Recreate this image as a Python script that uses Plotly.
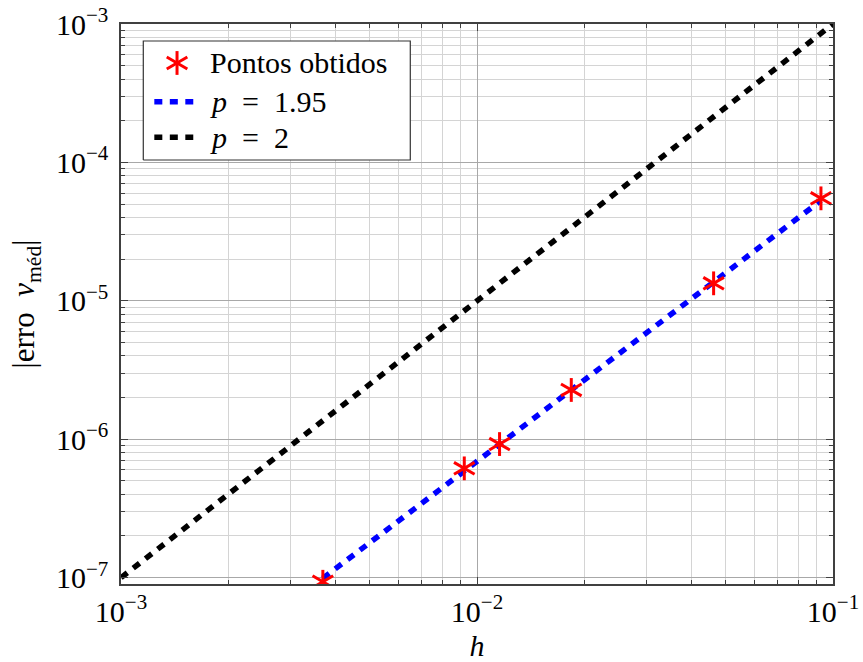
import plotly.graph_objects as go

# Measured error of the averaged velocity versus mesh size h
h_points = [0.0925, 0.0462, 0.0184, 0.01157, 0.00921, 0.00369]
err_points = [5.50e-5, 1.338e-5, 2.27e-6, 9.23e-7, 6.16e-7, 9.34e-8]

# Reference slopes
h_p195 = [0.00369, 0.0925]
err_p195 = [9.9e-8, 5.3e-5]
h_p2 = [1e-3, 1e-1]
err_p2 = [1e-7, 1e-3]

x_ticks = [1e-3, 1e-2, 1e-1]
x_ticktext = ["10<sup>−3</sup>", "10<sup>−2</sup>", "10<sup>−1</sup>"]
y_ticks = [1e-7, 1e-6, 1e-5, 1e-4, 1e-3]
y_ticktext = ["10<sup>−7</sup>", "10<sup>−6</sup>", "10<sup>−5</sup>", "10<sup>−4</sup>", "10<sup>−3</sup>"]

legend_labels = ["Pontos obtidos", "<i>p</i>\u00a0\u00a0=\u00a0\u00a01.95", "<i>p</i>\u00a0\u00a0=\u00a0\u00a02"]

FONT = "Liberation Serif, Times New Roman, serif"
RED = "#ff0000"
BLUE = "#0000ff"
DOTS = "8px,7.5px"
LW = 5.5
STAR_SIZE = 17
STAR_LW = 3
SPOKES = [0, 60, 120]
FS = 30

x_minor = [m * 10.0 ** e for e in range(-3, -1) for m in range(2, 10)]
y_minor = [m * 10.0 ** e for e in range(-8, -3) for m in range(2, 10)]


def star(a):
    return dict(symbol="line-ns-open", size=STAR_SIZE, angle=a, color=RED,
                line=dict(color=RED, width=STAR_LW))


fig = go.Figure()

fig.add_trace(go.Scatter(x=h_p2, y=err_p2, mode="lines",
                         line=dict(color="black", width=LW, dash=DOTS),
                         showlegend=False, hoverinfo="skip"))
fig.add_trace(go.Scatter(x=h_p195, y=err_p195, mode="lines",
                         line=dict(color=BLUE, width=LW, dash=DOTS),
                         showlegend=False, hoverinfo="skip"))
# six-spoke asterisk built from three rotated bars
for a in SPOKES:
    fig.add_trace(go.Scatter(x=h_points, y=err_points, mode="markers",
                             marker=star(a), showlegend=False))

# legend panel drawn on an overlay [0,1] coordinate system
box_x = [0.0313, 0.4063, 0.4063, 0.0313, 0.0313]
box_y = [0.7571, 0.7571, 0.9696, 0.9696, 0.7571]
row_y = [0.9304, 0.8612, 0.7977]
sample_x = [0.0468, 0.1015]
marker_x = 0.0787
text_x = 0.1226

fig.add_trace(go.Scatter(x=box_x, y=box_y, xaxis="x2", yaxis="y2", mode="lines",
                         fill="toself", fillcolor="white",
                         line=dict(color="#333333", width=1.2),
                         showlegend=False, hoverinfo="skip"))
for a in SPOKES:
    fig.add_trace(go.Scatter(x=[marker_x], y=[row_y[0]], xaxis="x2", yaxis="y2",
                             mode="markers", marker=star(a),
                             showlegend=False, hoverinfo="skip"))
for yy, col in zip(row_y[1:], [BLUE, "black"]):
    fig.add_trace(go.Scatter(x=sample_x, y=[yy, yy], xaxis="x2", yaxis="y2", mode="lines",
                             line=dict(color=col, width=LW, dash=DOTS),
                             showlegend=False, hoverinfo="skip"))

annotations = []
for yy, txt in zip(row_y, legend_labels):
    annotations.append(dict(x=text_x, y=yy, xref="x2", yref="y2", text=txt,
                            showarrow=False, xanchor="left", yanchor="middle",
                            font=dict(family=FONT, size=FS, color="black")))

axis_common = dict(
    type="log",
    automargin=False,
    showline=True, linecolor="#404040", linewidth=1.5, mirror="allticks",
    ticks="inside", ticklen=7, tickwidth=1, tickcolor="#404040",
    showgrid=True, gridcolor="#a8a8a8", gridwidth=1,
    zeroline=False,
    tickfont=dict(family=FONT, size=FS, color="black"),
    tickmode="array",
)

hidden = dict(range=[0, 1], visible=False, fixedrange=True, showticklabels=False,
              ticks="", showgrid=False, zeroline=False)

fig.update_layout(
    width=863, height=662,
    margin=dict(l=121, r=30, t=24, b=78),
    paper_bgcolor="white", plot_bgcolor="white",
    showlegend=False,
    xaxis=dict(axis_common, range=[-3, -1], tickvals=x_ticks, ticktext=x_ticktext,
               minor=dict(tickmode="array", tickvals=x_minor, ticks="inside", ticklen=4,
                          tickcolor="#404040", showgrid=True, gridcolor="#d4d4d4", gridwidth=1),
               title=dict(text="<i>h</i>", font=dict(family=FONT, size=FS, color="black"),
                          standoff=10)),
    yaxis=dict(axis_common, range=[-7.0458, -3], tickvals=y_ticks, ticktext=y_ticktext,
               minor=dict(tickmode="array", tickvals=y_minor, ticks="inside", ticklen=4,
                          tickcolor="#404040", showgrid=True, gridcolor="#d4d4d4", gridwidth=1),
               ticklabelstandoff=5,
               title=dict(text="|erro\u00a0\u00a0<i>v</i><sub>méd</sub>|",
                          font=dict(family=FONT, size=31, color="black"), standoff=12)),
    xaxis2=dict(hidden, overlaying="x"),
    yaxis2=dict(hidden, overlaying="y"),
    annotations=annotations,
)

fig.write_html("out.html")
